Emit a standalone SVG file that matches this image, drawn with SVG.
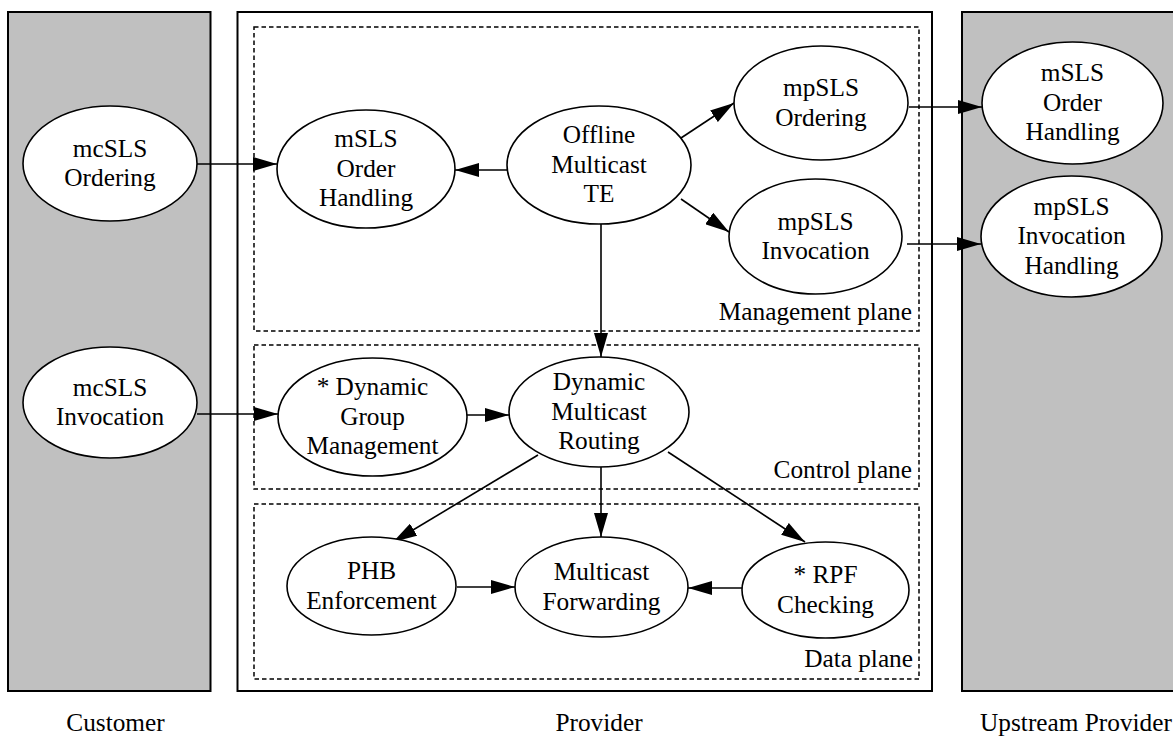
<svg xmlns="http://www.w3.org/2000/svg" width="1173" height="736" viewBox="0 0 1173 736">
  <style>
    .domain { stroke: #000; stroke-width: 2; }
    .shaded { fill: #c0c0c0; }
    .plain { fill: #fff; }
    .plane { fill: none; stroke: #000; stroke-width: 1.5; stroke-dasharray: 4.5 3; }
    .node ellipse { fill: #fff; stroke: #000; stroke-width: 1.6; }
    text { font-family: "Liberation Serif", "Times New Roman", serif; font-size: 25.3px; fill: #000; }
    .mid { text-anchor: middle; }
    .end { text-anchor: end; }
    .edge { stroke: #000; stroke-width: 1.6; fill: none; marker-end: url(#head); }
  </style>
  <defs>
    <marker id="head" viewBox="0 0 24 14" refX="24" refY="7" markerWidth="24" markerHeight="14" markerUnits="userSpaceOnUse" orient="auto">
      <path d="M0,0 L24,7 L0,14 Z" fill="#000"/>
    </marker>
  </defs>

  <!-- domains -->
  <g id="domains">
    <rect class="domain shaded" x="8" y="12" width="202.5" height="679"/>
    <rect class="domain plain" x="237.5" y="12" width="694.5" height="679"/>
    <rect class="domain shaded" x="962" y="12" width="230" height="679"/>
    <text class="mid" x="115.5" y="731">Customer</text>
    <text class="mid" x="599" y="731">Provider</text>
    <text class="mid" x="1076" y="731">Upstream Provider</text>
  </g>

  <!-- planes inside the provider -->
  <g id="planes">
    <rect class="plane" x="254" y="27" width="665" height="304"/>
    <rect class="plane" x="254" y="345" width="665" height="144"/>
    <rect class="plane" x="254" y="504" width="665" height="175"/>
    <text class="end" x="912" y="320">Management plane</text>
    <text class="end" x="912" y="478">Control plane</text>
    <text class="end" x="913" y="667">Data plane</text>
  </g>

  <!-- connectors -->
  <g id="connectors">
    <line class="edge" x1="197" y1="164" x2="277" y2="164"/>
    <line class="edge" x1="507" y1="170" x2="455" y2="170"/>
    <line class="edge" x1="681" y1="138" x2="734" y2="103"/>
    <line class="edge" x1="681" y1="199" x2="729" y2="232"/>
    <line class="edge" x1="909" y1="107" x2="982" y2="107"/>
    <line class="edge" x1="907" y1="244" x2="981" y2="244"/>
    <line class="edge" x1="601" y1="224" x2="601" y2="357"/>
    <line class="edge" x1="197" y1="414" x2="278" y2="414"/>
    <line class="edge" x1="467" y1="415" x2="509" y2="415"/>
    <line class="edge" x1="538" y1="455" x2="393" y2="542"/>
    <line class="edge" x1="601" y1="467" x2="601" y2="537"/>
    <line class="edge" x1="668" y1="452" x2="805" y2="542"/>
    <line class="edge" x1="457" y1="587" x2="515" y2="587"/>
    <line class="edge" x1="742" y1="588" x2="688" y2="588"/>
  </g>

  <!-- customer nodes -->
  <g id="mcsls-ordering" class="node">
    <ellipse cx="110" cy="163.5" rx="87" ry="57.5"/>
    <text class="mid"><tspan x="110" y="156.5">mcSLS</tspan><tspan x="110" y="186">Ordering</tspan></text>
  </g>
  <g id="mcsls-invocation" class="node">
    <ellipse cx="110" cy="402.5" rx="87" ry="55.5"/>
    <text class="mid"><tspan x="110" y="395.5">mcSLS</tspan><tspan x="110" y="425">Invocation</tspan></text>
  </g>

  <!-- management plane nodes -->
  <g id="msls-order-handling" class="node">
    <ellipse cx="366" cy="169" rx="89" ry="59"/>
    <text class="mid"><tspan x="366" y="147">mSLS</tspan><tspan x="366" y="176.5">Order</tspan><tspan x="366" y="206">Handling</tspan></text>
  </g>
  <g id="offline-te" class="node">
    <ellipse cx="599" cy="165" rx="92" ry="59"/>
    <text class="mid"><tspan x="599" y="143">Offline</tspan><tspan x="599" y="172.5">Multicast</tspan><tspan x="599" y="202">TE</tspan></text>
  </g>
  <g id="mpsls-ordering" class="node">
    <ellipse cx="821" cy="103" rx="87" ry="57"/>
    <text class="mid"><tspan x="821" y="96">mpSLS</tspan><tspan x="821" y="125.5">Ordering</tspan></text>
  </g>
  <g id="mpsls-invocation" class="node">
    <ellipse cx="815.5" cy="236.5" rx="86.5" ry="57.5"/>
    <text class="mid"><tspan x="815.5" y="229.5">mpSLS</tspan><tspan x="815.5" y="259">Invocation</tspan></text>
  </g>

  <!-- upstream provider nodes -->
  <g id="upstream-msls-order-handling" class="node">
    <ellipse cx="1072.5" cy="103" rx="90.5" ry="61"/>
    <text class="mid"><tspan x="1072.5" y="81">mSLS</tspan><tspan x="1072.5" y="110.5">Order</tspan><tspan x="1072.5" y="140">Handling</tspan></text>
  </g>
  <g id="mpsls-invocation-handling" class="node">
    <ellipse cx="1071.5" cy="236.5" rx="90.5" ry="60.5"/>
    <text class="mid"><tspan x="1071.5" y="214.5">mpSLS</tspan><tspan x="1071.5" y="244">Invocation</tspan><tspan x="1071.5" y="273.5">Handling</tspan></text>
  </g>

  <!-- control plane nodes -->
  <g id="dynamic-group-management" class="node">
    <ellipse cx="372.5" cy="417" rx="94.5" ry="59"/>
    <text class="mid"><tspan x="372.5" y="395">* Dynamic</tspan><tspan x="372.5" y="424.5">Group</tspan><tspan x="372.5" y="454">Management</tspan></text>
  </g>
  <g id="dynamic-multicast-routing" class="node">
    <ellipse cx="599" cy="412" rx="90" ry="55"/>
    <text class="mid"><tspan x="599" y="390">Dynamic</tspan><tspan x="599" y="419.5">Multicast</tspan><tspan x="599" y="449">Routing</tspan></text>
  </g>

  <!-- data plane nodes -->
  <g id="phb-enforcement" class="node">
    <ellipse cx="371.5" cy="586" rx="84.5" ry="49"/>
    <text class="mid"><tspan x="371.5" y="579">PHB</tspan><tspan x="371.5" y="608.5">Enforcement</tspan></text>
  </g>
  <g id="multicast-forwarding" class="node">
    <ellipse cx="601.5" cy="587" rx="86.5" ry="50"/>
    <text class="mid"><tspan x="601.5" y="580">Multicast</tspan><tspan x="601.5" y="609.5">Forwarding</tspan></text>
  </g>
  <g id="rpf-checking" class="node">
    <ellipse cx="825.5" cy="590" rx="83.5" ry="48"/>
    <text class="mid"><tspan x="825.5" y="583">* RPF</tspan><tspan x="825.5" y="612.5">Checking</tspan></text>
  </g>
</svg>
